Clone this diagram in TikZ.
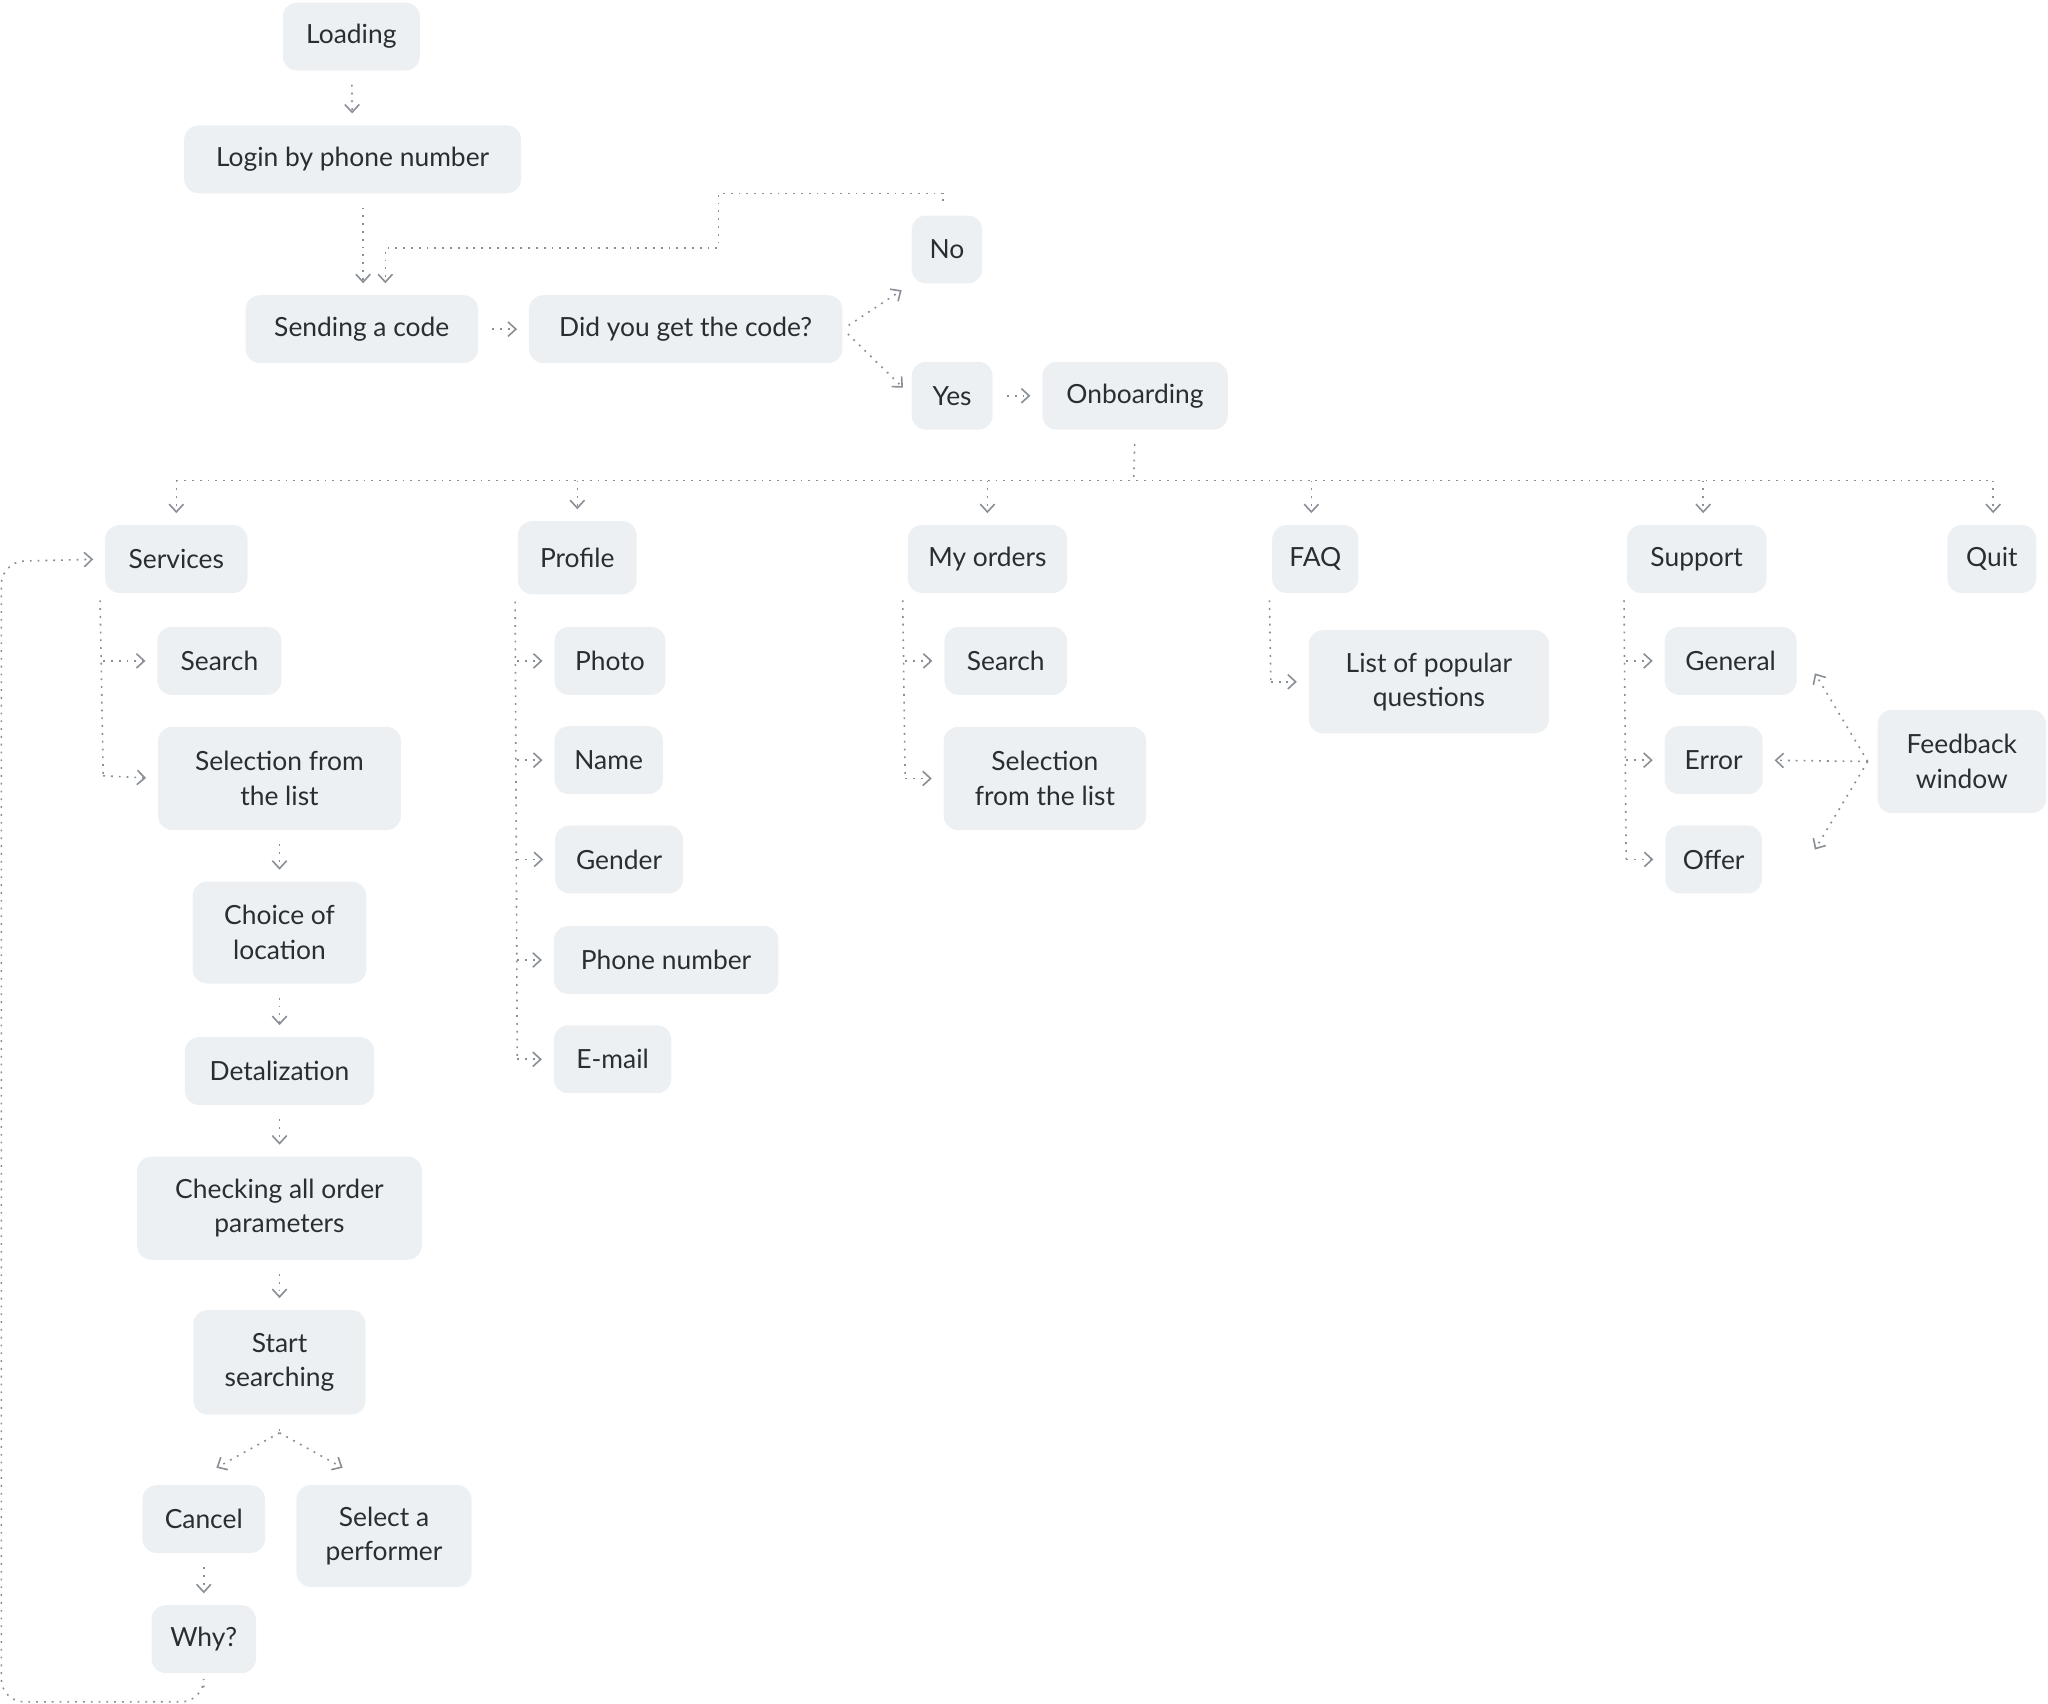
\documentclass[tikz,border=0pt]{standalone}
\usepackage{fontspec}
\setmainfont{Lato}
\usetikzlibrary{arrows.meta}
\definecolor{bx}{HTML}{EDF0F3}
\definecolor{tx}{HTML}{2A2E33}
\definecolor{ln}{HTML}{8A8F96}
\begin{document}
\begin{tikzpicture}[x=0.02cm,y=-0.02cm,
 b/.style={fill=bx,rounded corners=0.22cm,text=tx,align=center,font=\fontsize{11.5}{15}\selectfont,minimum height=1.04cm,minimum width=#1*0.02cm,inner sep=2pt},
 c/.style={ln,line width=0.7pt,dash pattern=on 0.8pt off 2.6pt,-{Straight Barb[length=1.2mm,width=2.2mm]},shorten >=5pt,shorten <=6pt},
 l/.style={ln,line width=0.7pt,dash pattern=on 0.8pt off 2.6pt}]
\useasboundingbox (0,0) rectangle (1568,1304);
\node[b=105] (load) at (269,28) {Loading};
\node[b=258] (login) at (270,122) {Login by phone number};
\node[b=178] (send) at (277,252) {Sending a code};
\node[b=240] (did) at (525,252) {Did you get the code?};
\node[b=54] (no) at (725,191) {No};
\node[b=62] (yes) at (729,303) {Yes};
\node[b=142] (onb) at (869,303) {Onboarding};
\node[b=109] (serv) at (135,428) {Services};
\node[b=91,minimum height=1.12cm] (prof) at (442,427) {Profile};
\node[b=122] (ord) at (756,428) {My orders};
\node[b=66] (faq) at (1007,428) {FAQ};
\node[b=107] (sup) at (1299,428) {Support};
\node[b=68] (quit) at (1525,428) {Quit};
\node[b=95] (s1) at (168,506) {Search};
\node[b=186,minimum height=1.58cm] (s2) at (214,596) {Selection from\\the list};
\node[b=133,minimum height=1.56cm] (s3) at (214,714) {Choice of\\location};
\node[b=145] (s4) at (214,820) {Detalization};
\node[b=218,minimum height=1.58cm] (s5) at (214,925) {Checking all order\\parameters};
\node[b=132,minimum height=1.6cm] (s6) at (214,1043) {Start\\searching};
\node[b=94] (cancel) at (156,1163) {Cancel};
\node[b=134,minimum height=1.56cm] (sel) at (294,1176) {Select a\\performer};
\node[b=80] (why) at (156,1255) {Why?};
\node[b=85] (p1) at (467,506) {Photo};
\node[b=83] (p2) at (466,582) {Name};
\node[b=98] (p3) at (474,658) {Gender};
\node[b=172] (p4) at (510,735) {Phone number};
\node[b=90] (p5) at (469,811) {E-mail};
\node[b=94] (o1) at (770,506) {Search};
\node[b=155,minimum height=1.58cm] (o2) at (800,596) {Selection\\from the list};
\node[b=184,minimum height=1.58cm] (f1) at (1094,522) {List of popular\\questions};
\node[b=101] (g1) at (1325,506) {General};
\node[b=75] (g2) at (1312,582) {Error};
\node[b=74] (g3) at (1312,658) {Offer};
\node[b=129,minimum height=1.58cm] (fb) at (1502,583) {Feedback\\window};
% top
\draw[c] (load) -- (login);
\draw[c] (login.south -| 278,0) -- (send.north -| 278,0);
\draw[c] (no.north -| 722,0) -- (722,148) -- (550,148) -- (550,190) -- (295,190) -- (send.north -| 295,0);
\draw[c] (send) -- (did);
\draw[c,shorten <=3pt] (did.east) -- (no.south west);
\draw[c,shorten <=3pt] (did.east) -- (yes.west);
\draw[c] (yes) -- (onb);
% bus
\coordinate (bus) at (868,368);
\draw[l,shorten <=6pt] (onb.south) -- (bus);
\draw[l] (135,368) -- (1526,368);
\foreach \n/\x in {serv/135,prof/442,ord/756,faq/1004,sup/1304,quit/1526}
  \draw[c,shorten <=0pt] (\x,368) -- (\n.north -| \x,0);
% services
\draw[l] ([xshift=-2pt,yshift=-3pt]serv.south west) -- (79,594);
\draw[c,shorten <=0pt] (79,506) -- (s1.west);
\draw[c,shorten <=0pt] (79,594) -- (s2.west);
\draw[c] (s2) -- (s3);
\draw[c] (s3) -- (s4);
\draw[c] (s4) -- (s5);
\draw[c] (s5) -- (s6);
\draw[l,shorten <=6pt] (s6.south) -- (214,1097) coordinate (sp);
\draw[c,shorten <=0pt] (sp) -- (158,1128);
\draw[c,shorten <=0pt] (sp) -- (270,1128);
\draw[c] (cancel) -- (why);
\draw[c,rounded corners=10pt] (why.south) -- (156,1303) -- (1,1303) -- (1,430) -- (serv.west);
% profile
\draw[l] ([xshift=-1pt,yshift=-3pt]prof.south west) -- (396,811);
\foreach \n/\y in {p1/506,p2/582,p3/658,p4/735,p5/811}
  \draw[c,shorten <=0pt] (396,\y) -- (\n.west);
% orders
\draw[l] ([xshift=-2pt,yshift=-3pt]ord.south west) -- (693,596);
\draw[c,shorten <=0pt] (693,506) -- (o1.west);
\draw[c,shorten <=0pt] (693,596) -- (o2.west);
% faq
\draw[l] ([xshift=-1pt,yshift=-3pt]faq.south west) -- (973,522);
\draw[c,shorten <=0pt] (973,522) -- (f1.west);
% support
\draw[l] ([xshift=-1pt,yshift=-3pt]sup.south west) -- (1245,658);
\foreach \n/\y in {g1/506,g2/582,g3/658}
  \draw[c,shorten <=0pt] (1245,\y) -- (\n.west);
\coordinate (fp) at (1430,583);
\draw[c,shorten <=0pt] (fp) -- (1385,508);
\draw[c,shorten <=0pt] (fp) -- (g2.east);
\draw[c,shorten <=0pt] (fp) -- (1385,658);
\end{tikzpicture}
\end{document}
